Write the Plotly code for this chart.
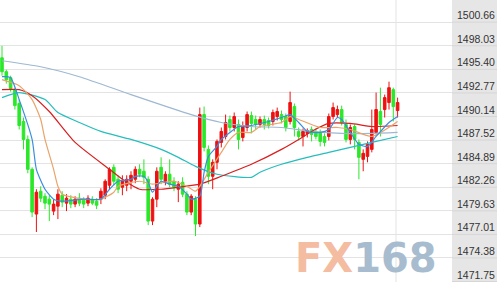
import plotly.graph_objects as go

# ---- data ----
opens = [1496.69, 1495.14, 1494.47, 1493.14, 1491.59, 1489.59, 1487.59, 1484.26, 1479.27, 1481.82,
         1481.26, 1480.93, 1479.60, 1480.15, 1481.37, 1480.49, 1480.93, 1480.38, 1481.04, 1480.82,
         1480.49, 1480.93, 1480.71, 1480.93, 1481.37, 1482.48, 1484.48, 1483.15, 1482.26, 1482.48,
         1482.93, 1483.15, 1484.26, 1484.04, 1483.15, 1478.49, 1480.93, 1484.48, 1482.93, 1483.71,
         1482.93, 1482.04, 1482.82, 1481.49, 1479.49, 1480.93, 1478.16, 1490.36, 1486.48, 1483.48,
         1485.04, 1487.26, 1487.92, 1489.81, 1488.92, 1489.26, 1487.81, 1488.92, 1490.25, 1489.81,
         1489.26, 1489.81, 1489.70, 1489.59, 1490.14, 1490.36, 1490.14, 1489.59, 1491.25, 1488.48,
         1487.92, 1488.26, 1488.70, 1488.48, 1488.37, 1487.92, 1487.92, 1490.14, 1490.36, 1490.92,
         1489.26, 1487.59, 1489.03, 1487.26, 1485.37, 1485.70, 1486.48, 1488.37, 1490.70, 1490.92,
         1491.70, 1493.14, 1490.81]
highs = [1498.02, 1495.36, 1494.69, 1493.36, 1492.03, 1490.03, 1488.03, 1484.48, 1482.04, 1482.37,
         1481.60, 1481.37, 1480.93, 1482.04, 1481.82, 1481.49, 1481.37, 1481.26, 1481.60, 1481.15,
         1481.37, 1481.26, 1481.04, 1482.15, 1483.15, 1484.48, 1484.82, 1483.59, 1483.59, 1483.59,
         1484.04, 1484.59, 1484.82, 1485.37, 1483.48, 1481.15, 1484.48, 1485.59, 1484.04, 1485.37,
         1483.37, 1482.93, 1483.37, 1481.82, 1481.49, 1481.26, 1491.14, 1491.25, 1486.92, 1485.37,
         1487.59, 1488.92, 1490.36, 1490.25, 1490.59, 1489.81, 1489.59, 1490.70, 1490.70, 1490.25,
         1490.14, 1490.25, 1490.03, 1490.92, 1491.14, 1490.81, 1490.48, 1492.92, 1491.59, 1488.92,
         1488.81, 1488.81, 1489.03, 1488.81, 1488.70, 1488.26, 1490.48, 1491.70, 1491.36, 1491.36,
         1489.81, 1489.26, 1489.26, 1487.59, 1486.48, 1487.37, 1490.92, 1492.81, 1493.36, 1492.59,
         1494.03, 1493.36, 1492.25]
lows = [1494.69, 1493.81, 1492.92, 1490.92, 1488.70, 1486.48, 1483.82, 1478.93, 1477.27, 1480.60,
        1479.82, 1478.49, 1479.15, 1478.71, 1480.04, 1479.60, 1479.93, 1480.04, 1480.15, 1479.93,
        1480.15, 1480.26, 1479.82, 1480.38, 1480.93, 1482.04, 1482.48, 1481.60, 1481.37, 1481.82,
        1482.04, 1482.71, 1483.37, 1482.60, 1478.04, 1478.04, 1480.04, 1482.60, 1482.48, 1482.26,
        1481.82, 1480.60, 1481.15, 1479.15, 1479.15, 1476.82, 1477.82, 1486.26, 1482.60, 1482.04,
        1484.26, 1486.70, 1487.59, 1488.48, 1488.48, 1486.48, 1487.37, 1488.48, 1488.26, 1488.70,
        1488.92, 1488.70, 1488.81, 1489.14, 1489.70, 1489.37, 1488.48, 1489.26, 1487.92, 1487.48,
        1486.81, 1487.81, 1487.37, 1487.59, 1486.81, 1486.81, 1487.48, 1489.81, 1490.03, 1489.14,
        1487.26, 1487.04, 1486.48, 1483.15, 1484.04, 1485.04, 1486.15, 1488.15, 1487.92, 1490.03,
        1490.92, 1489.59, 1490.03]
closes = [1495.14, 1494.25, 1493.25, 1491.36, 1489.14, 1487.59, 1484.26, 1479.49, 1481.71, 1481.04,
          1480.49, 1480.38, 1480.38, 1481.49, 1480.60, 1481.04, 1480.38, 1480.93, 1480.49, 1480.38,
          1481.04, 1480.49, 1480.26, 1481.82, 1482.93, 1484.26, 1482.93, 1482.04, 1482.93, 1483.15,
          1483.59, 1484.26, 1483.71, 1483.37, 1478.49, 1480.93, 1484.04, 1483.15, 1483.71, 1482.60,
          1482.26, 1482.60, 1481.49, 1479.49, 1481.26, 1478.16, 1490.36, 1486.70, 1483.48, 1485.04,
          1487.37, 1488.48, 1489.48, 1488.92, 1490.14, 1487.59, 1489.14, 1490.36, 1489.37, 1489.26,
          1489.81, 1489.26, 1489.14, 1490.59, 1490.70, 1489.81, 1488.92, 1491.70, 1488.92, 1487.92,
          1488.48, 1488.59, 1488.15, 1487.92, 1487.37, 1487.26, 1490.14, 1491.14, 1490.92, 1489.48,
          1487.59, 1488.92, 1487.59, 1485.59, 1486.04, 1487.04, 1488.70, 1490.92, 1489.26, 1492.25,
          1493.36, 1491.25, 1491.70]

# moving-average lines, sampled at candle indices
ma_fast_idx = [0, 2, 4, 7, 8, 10, 12, 14, 19, 23, 25, 27, 30, 31, 33, 34, 35, 36, 37, 39, 41, 43, 44,
               46, 47, 48, 50, 51, 53, 55, 56, 58, 62, 65, 67, 69, 71, 74, 76, 78, 79, 81, 83, 85, 87, 90, 92]
ma_fast = [1494.58, 1494.47, 1492.03, 1487.59, 1484.26, 1482.04, 1480.93, 1480.71, 1480.93, 1480.93,
           1482.04, 1482.93, 1483.15, 1483.48, 1483.48, 1482.82, 1481.71, 1482.37, 1482.93, 1482.60,
           1482.37, 1481.49, 1480.93, 1481.26, 1483.93, 1485.70, 1486.81, 1487.59, 1488.37, 1489.03,
           1489.03, 1489.14, 1489.59, 1490.03, 1490.36, 1489.48, 1488.48, 1488.37, 1488.70, 1490.03,
           1489.81, 1488.37, 1487.04, 1486.81, 1487.92, 1489.48, 1490.14]

ma_mid_idx = [0, 4, 7, 9, 10, 12, 13, 14, 19, 23, 26, 27, 32, 35, 40, 43, 45, 46, 48, 51, 53, 55, 58,
              60, 65, 67, 69, 74, 78, 81, 86, 92]
ma_mid = [1494.25, 1493.58, 1492.03, 1489.81, 1487.59, 1484.26, 1482.37, 1481.49, 1480.93, 1480.93,
          1481.71, 1482.37, 1482.93, 1482.60, 1482.93, 1482.37, 1481.82, 1482.37, 1483.93, 1486.15,
          1487.59, 1488.37, 1488.37, 1489.03, 1489.48, 1490.14, 1489.81, 1488.92, 1488.92, 1488.70,
          1487.92, 1489.59]

ma_red_idx = [0, 4, 7, 11, 17, 25, 28, 32, 37, 41, 46, 51, 58, 65, 69, 72, 76, 81, 86, 92]
ma_red = [1493.14, 1493.14, 1492.47, 1490.70, 1487.26, 1484.26, 1483.15, 1482.04, 1482.04, 1482.26,
          1482.60, 1483.48, 1484.82, 1486.48, 1487.59, 1488.48, 1489.37, 1489.37, 1489.03, 1489.14]

ma_cyan_idx = [0, 4, 10, 13, 18, 23, 30, 37, 41, 45, 50, 58, 60, 65, 71, 76, 81, 86, 92]
ma_cyan = [1492.25, 1492.81, 1492.03, 1490.59, 1489.48, 1488.48, 1487.59, 1486.48, 1485.59, 1484.59,
           1483.71, 1483.37, 1483.93, 1484.82, 1485.59, 1486.15, 1486.70, 1487.26, 1487.92]

ma_slow_idx = [0, 9, 18, 30, 44, 51, 58, 65, 72, 79, 86, 92]
ma_slow = [1496.36, 1495.69, 1494.58, 1492.59, 1490.36, 1489.48, 1489.03, 1488.92, 1488.48, 1488.26,
           1488.26, 1488.37]

tick_vals = [1471.75, 1474.38, 1477.01, 1479.63, 1482.26, 1484.89, 1487.52, 1490.14, 1492.77,
             1495.40, 1498.03, 1500.66]
tick_text = ["1471.75", "1474.38", "1477.01", "1479.63", "1482.26", "1484.89", "1487.52", "1490.14",
             "1492.77", "1495.40", "1498.03", "1500.66"]

idx = list(range(len(opens)))

W, H = 497, 282
PLOT_W = 452          # chart area width; the rest is the grey label panel
RIGHT = W - PLOT_W
fig = go.Figure()

fig.add_trace(go.Candlestick(
    x=idx, open=opens, high=highs, low=lows, close=closes,
    increasing=dict(line=dict(color="#ee1111", width=1), fillcolor="#ee1111"),
    decreasing=dict(line=dict(color="#2ae82a", width=1), fillcolor="#2ae82a"),
    whiskerwidth=0, showlegend=False, hoverinfo="skip"))

lines = [
    (ma_slow_idx, ma_slow, "#9db8d2"),
    (ma_cyan_idx, ma_cyan, "#26bdbd"),
    (ma_red_idx, ma_red, "#d81e1e"),
    (ma_mid_idx, ma_mid, "#eaa36a"),
    (ma_fast_idx, ma_fast, "#3a8de0"),
]
for xs, ys, col in lines:
    fig.add_trace(go.Scatter(x=xs, y=ys, mode="lines", line=dict(color=col, width=1.2, shape="spline",
                                                                smoothing=0.6),
                             showlegend=False, hoverinfo="skip"))

pitch = 4.3
x0 = -2 / pitch
x1 = x0 + PLOT_W / pitch

annotations = []
for v, t in zip(tick_vals, tick_text):
    annotations.append(dict(x=1, xref="paper", xanchor="left", xshift=3, y=v, yref="y",
                            yanchor="middle", yshift=7, text=t, showarrow=False,
                            font=dict(family="Liberation Sans, Arial", size=10.5, color="#333333")))
annotations.append(dict(x=366 / PLOT_W, xref="paper", xanchor="center", y=1 - 258 / H, yref="paper",
                        yanchor="middle", showarrow=False,
                        text='<b><span style="color:#f4bca0">FX</span><span style="color:#a7bdcf">168</span></b>',
                        font=dict(family="DejaVu Sans", size=40)))

shapes = [
    dict(type="line", xref="paper", yref="paper", x0=396 / PLOT_W, x1=396 / PLOT_W, y0=0, y1=1,
         line=dict(color="#e3e3e3", width=1), layer="below"),
    # grey label panel drawn explicitly to the right of the chart area
    dict(type="rect", xref="paper", yref="paper", x0=1, x1=W / PLOT_W, y0=0, y1=1,
         fillcolor="#e6e6e6", line=dict(width=0), layer="above"),
]
# faint gridlines continuing through the label panel
for v in tick_vals:
    shapes.append(dict(type="line", xref="paper", yref="y", x0=1, x1=W / PLOT_W, y0=v, y1=v,
                       line=dict(color="#d6d6d6", width=1), layer="above"))

fig.update_layout(
    width=W, height=H, margin=dict(l=0, r=RIGHT, t=0, b=0, pad=0),
    paper_bgcolor="#e6e6e6", plot_bgcolor="white",
    boxgap=0.15,
    xaxis=dict(range=[x0, x1], showgrid=False, zeroline=False, showticklabels=False,
               rangeslider=dict(visible=False), fixedrange=True),
    yaxis=dict(range=[1471.70, 1503.13], tickvals=tick_vals, showticklabels=False,
               gridcolor="#e3e3e3", gridwidth=1, zeroline=False, fixedrange=True),
    shapes=shapes,
    annotations=annotations,
)

fig.write_html("out.html")
